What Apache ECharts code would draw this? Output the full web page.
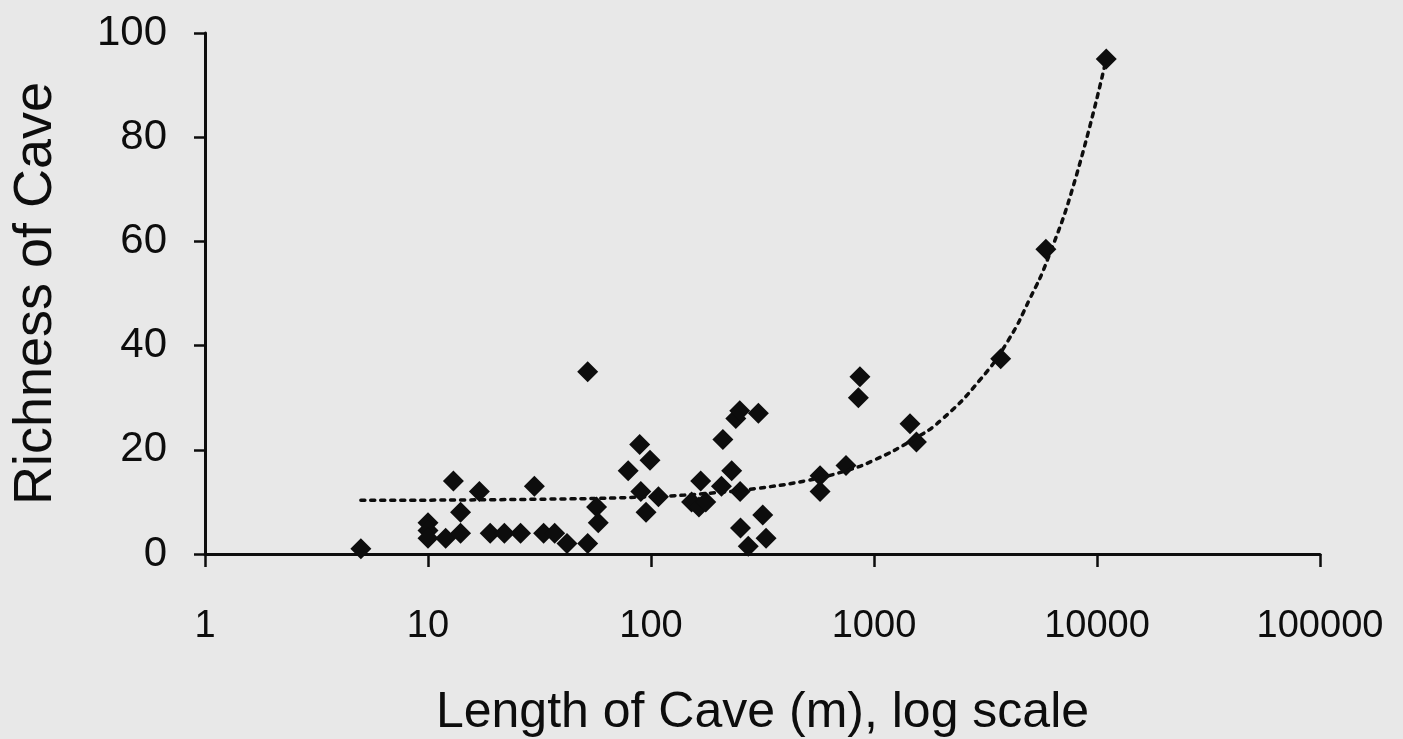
<!DOCTYPE html>
<html>
<head>
<meta charset="utf-8">
<script src="https://cdn.jsdelivr.net/npm/echarts@6/dist/echarts.min.js"></script>
<style>
  html, body { margin: 0; padding: 0; background: #e8e8e8; }
  #main { width: 1403px; height: 739px; }
</style>
</head>
<body>
<div id="main"></div>
<script>
// cave length (m) and species richness
var caveLength = [5, 10, 10, 10, 12, 13, 14, 14, 17, 19, 22, 26, 30, 33, 37, 42, 52, 52, 57, 58,
  79, 89, 90, 95, 99, 108, 152, 164, 167, 176, 207, 210, 230, 240, 250, 251, 252, 273, 303, 317, 328,
  573, 573, 749, 851, 865, 1450, 1550, 3700, 5900, 11000];
var caveRichness = [1, 6, 4.5, 3, 3, 14, 8, 4, 12, 4, 4, 4, 13, 4, 4, 2, 35, 2, 9, 6,
  16, 21, 12, 8, 18, 11, 10, 9, 14, 10, 13, 22, 16, 26, 27.5, 12, 5, 1.5, 27, 7.5, 3,
  15, 12, 17, 30, 34, 25, 21.5, 37.5, 58.5, 95];

// dotted trend line
var trendX = [5, 30, 100, 200, 300, 500, 750, 1000, 1500, 2000, 3000, 4000, 5000, 6000, 8000, 11000];
var trendY = [10.3, 10.5, 11, 11.8, 12.6, 14.1, 16, 18, 22, 25.7, 33.5, 41, 49, 56.5, 72, 95];

var yTicks = [0, 20, 40, 60, 80, 100];

var scatterData = caveLength.map(function (x, i) { return [x, caveRichness[i]]; });
var trendData = trendX.map(function (x, i) { return [x, trendY[i]]; });

var myChart = echarts.init(document.getElementById('main'));
var ink = '#0d0d0d';
var font = '"Liberation Sans", Arial, sans-serif';

var option = {
  backgroundColor: '#e8e8e8',
  animation: false,
  grid: { left: 205, right: 83, top: 33, bottom: 185, containLabel: false, outerBoundsMode: 'none' },
  xAxis: {
    type: 'log',
    logBase: 10,
    min: 1,
    max: 100000,
    name: 'Length of Cave (m), log scale',
    nameLocation: 'middle',
    nameGap: 134,
    nameTextStyle: { color: ink, fontFamily: font, fontSize: 50 },
    axisLine: { lineStyle: { color: ink, width: 3 } },
    axisTick: { show: true, length: 13, lineStyle: { color: ink, width: 2.5 } },
    axisLabel: {
      color: ink, fontFamily: font, fontSize: 38, margin: 54,
      formatter: function (v) { return String(Math.round(v)); }
    },
    splitLine: { show: false },
    minorTick: { show: false }
  },
  yAxis: {
    type: 'value',
    min: yTicks[0],
    max: yTicks[yTicks.length - 1],
    interval: 20,
    name: 'Richness of Cave',
    nameLocation: 'middle',
    nameGap: 142,
    nameTextStyle: { color: ink, fontFamily: font, fontSize: 54 },
    axisLine: { show: true, lineStyle: { color: ink, width: 3 } },
    axisTick: { show: true, length: 11, lineStyle: { color: ink, width: 2.5 } },
    axisLabel: { color: ink, fontFamily: font, fontSize: 42, margin: 38 },
    splitLine: { show: false }
  },
  series: [
    {
      type: 'line',
      data: trendData,
      smooth: true,
      symbol: 'none',
      lineStyle: { color: ink, width: 3.5, type: [4, 6], cap: 'round', opacity: 1 },
      z: 3
    },
    {
      type: 'scatter',
      data: scatterData,
      symbol: 'diamond',
      symbolSize: 21,
      itemStyle: { color: ink, opacity: 1 },
      z: 2
    }
  ]
};

myChart.setOption(option, true);
</script>
</body>
</html>
